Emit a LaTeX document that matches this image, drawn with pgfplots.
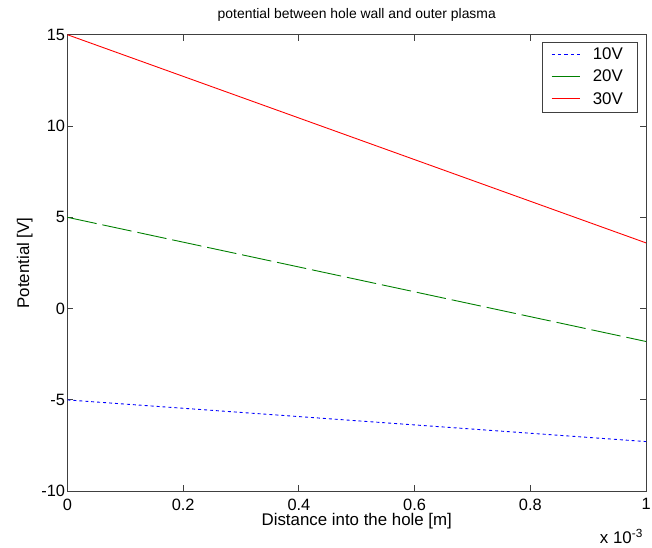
\documentclass[border=0pt]{standalone}
\usepackage{fontspec}
\setmainfont{Liberation Sans}
\usepackage{pgfplots}
\pgfplotsset{compat=1.18}
\definecolor{mblue}{RGB}{0,0,255}
\definecolor{mgreen}{RGB}{0,128,0}
\definecolor{mred}{RGB}{255,0,0}
\begin{document}
\begin{tikzpicture}
\begin{axis}[
  scale only axis,
  width=583pt, height=460pt,
  xmin=0, xmax=1, ymin=-10, ymax=15,
  xtick={0,0.2,0.4,0.6,0.8,1},
  xticklabels={0,0.2,0.4,0.6,0.8,1},
  ytick={-10,-5,0,5,10,15},
  /pgf/number format/assume math mode=true,
  tick align=inside,
  major tick length=6pt,
  axis line style={black!75, line width=0.9pt},
  tick style={black!75, line width=0.9pt},
  ticklabel style={font=\fontsize{16.5pt}{18pt}\selectfont},
  xticklabel style={yshift=-4pt},
  yticklabel style={xshift=1pt},
  title={potential between hole wall and outer plasma},
  title style={font=\fontsize{14pt}{16pt}\selectfont, yshift=4pt},
  xlabel={Distance into the hole [m]},
  ylabel={Potential [V]},
  label style={font=\fontsize{17pt}{19pt}\selectfont},
  xlabel style={yshift=4pt},
  ylabel style={yshift=2pt},
  legend style={at={(rel axis cs:0.8216,0.9826)}, anchor=north west,
    draw=none, fill=none, font=\fontsize{17pt}{19pt}\selectfont,
    inner xsep=8pt, inner ysep=3pt, row sep=5pt,
    /tikz/every odd column/.append style={column sep=10pt}},
  legend cell align=left,
  legend image code/.code={\draw[#1] (0pt,0pt) -- (29pt,0pt);},
  clip=true,
]
\addplot[mblue, line width=0.9pt, dash pattern=on 3pt off 3pt, forget plot] coordinates {
 (0,-5) (0.25,-5.57) (0.5,-6.14) (0.75,-6.71) (1,-7.28)};
\addplot[mgreen, line width=0.9pt, dash pattern=on 30pt off 6pt, forget plot] coordinates {
 (0,5) (0.25,3.3) (0.5,1.6) (0.75,-0.1) (1,-1.8)};
\addplot[mred, line width=0.9pt, forget plot] coordinates {
 (0,15) (0.25,12.15) (0.5,9.3) (0.75,6.45) (1,3.6)};
\addlegendimage{draw=mblue, line width=1.1pt, dash pattern=on 3.5pt off 3pt}
\addlegendentry{10V}
\addlegendimage{draw=mgreen, line width=1.1pt}
\addlegendentry{20V}
\addlegendimage{draw=mred, line width=1.1pt}
\addlegendentry{30V}
\draw[black!75, line width=0.9pt] (rel axis cs:0.8216,0.830) rectangle (rel axis cs:0.9846,0.9826);
\end{axis}
\node[anchor=base east, font=\fontsize{17pt}{19pt}\selectfont, inner sep=0pt] at ([xshift=-3pt,yshift=-53pt]current axis.south east) {x 10\textsuperscript{-3}};
\pgfresetboundingbox
\useasboundingbox ([xshift=-68pt,yshift=-57pt]current axis.south west) rectangle ([xshift=6pt,yshift=35pt]current axis.north east);
\end{tikzpicture}
\end{document}
